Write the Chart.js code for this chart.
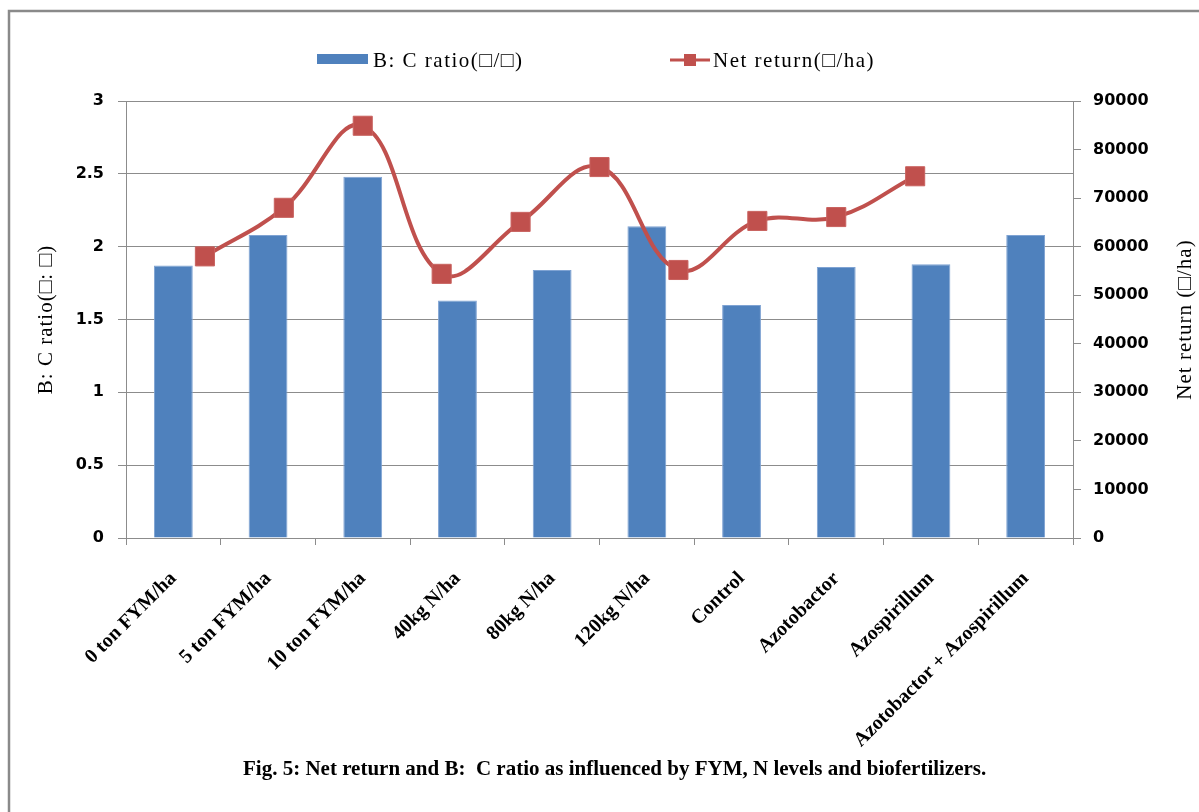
<!DOCTYPE html>
<html>
<head>
<meta charset="utf-8">
<script src="https://cdn.jsdelivr.net/npm/chart.js@4.4.1/dist/chart.umd.min.js"></script>
<style>
  body { margin: 0; background: #fff; }
  #wrap { width: 1199px; height: 812px; }
</style>
</head>
<body>
<div id="wrap"><canvas id="chart" width="1199" height="812"></canvas></div>
<script>
const categories = ['0 ton FYM/ha', '5 ton FYM/ha', '10 ton FYM/ha', '40kg N/ha', '80kg N/ha',
  '120kg N/ha', 'Control', 'Azotobactor', 'Azospirillum', 'Azotobactor + Azospirillum'];
const bcRatio = [1.87, 2.08, 2.48, 1.63, 1.84, 2.14, 1.60, 1.86, 1.88, 2.08];
// the line sits on its own category axis in the original (12 slots, points on 1..10)
const netSlots = [1, 2, 3, 4, 5, 6, 7, 8, 9, 10];
const netReturn = [58000, 68000, 84900, 54400, 65100, 76400, 55200, 65300, 66100, 74500];
const leftTicks = [0, 0.5, 1, 1.5, 2, 2.5, 3];
const rightTicks = [0, 10000, 20000, 30000, 40000, 50000, 60000, 70000, 80000, 90000];

const BLUE = '#4F81BD';
const RED = '#C0504D';
const GRID = '#8c8c8c';
const serif = '"Liberation Serif", "Times New Roman", serif';
const sans = '"DejaVu Sans", sans-serif';

const extras = {
  id: 'extras',
  afterDraw(chart) {
    const ctx = chart.ctx;
    const area = chart.chartArea;
    ctx.save();
    // frame
    ctx.strokeStyle = '#8a8a8a';
    ctx.lineWidth = 2.5;
    ctx.beginPath();
    ctx.moveTo(9, 812);
    ctx.lineTo(9, 11);
    ctx.lineTo(1199, 11);
    ctx.stroke();

    // legend
    ctx.fillStyle = BLUE;
    ctx.fillRect(317, 54, 51, 10);
    ctx.fillStyle = '#000';
    ctx.font = '21px ' + serif;
    ctx.letterSpacing = '1.5px';
    ctx.textBaseline = 'middle';
    ctx.textAlign = 'left';
    ctx.fillText('B: C ratio(□/□)', 373, 61);
    ctx.strokeStyle = RED;
    ctx.lineWidth = 3;
    ctx.beginPath();
    ctx.moveTo(670, 60);
    ctx.lineTo(710, 60);
    ctx.stroke();
    ctx.fillStyle = RED;
    ctx.fillRect(684, 54, 12, 12);
    ctx.fillStyle = '#000';
    ctx.fillText('Net return(□/ha)', 713, 61);

    // axis titles, both read bottom to top
    const midY = (area.top + area.bottom) / 2;
    ctx.font = '21px ' + serif;
    ctx.letterSpacing = '1px';
    ctx.textAlign = 'center';
    ctx.save();
    ctx.translate(46, midY);
    ctx.rotate(-Math.PI / 2);
    ctx.fillText('B: C ratio(□: □)', 0, 0);
    ctx.restore();
    ctx.save();
    ctx.translate(1185, midY);
    ctx.rotate(-Math.PI / 2);
    ctx.fillText('Net return (□/ha)', 0, 0);
    ctx.restore();

    // caption
    ctx.font = 'bold 21px ' + serif;
    ctx.letterSpacing = '0px';
    ctx.textAlign = 'left';
    ctx.fillText('Fig. 5: Net return and B:  C ratio as influenced by FYM, N levels and biofertilizers.', 243, 770);
    ctx.restore();
  }
};

new Chart(document.getElementById('chart'), {
  data: {
    labels: categories,
    datasets: [
      {
        type: 'line',
        label: 'Net return(□/ha)',
        data: netSlots.map((s, i) => ({ x: s, y: netReturn[i] })),
        xAxisID: 'x2',
        yAxisID: 'y1',
        borderColor: RED,
        borderWidth: 4,
        backgroundColor: RED,
        pointStyle: 'rect',
        pointRadius: 13.5,
        pointHoverRadius: 13.5,
        pointBorderColor: '#c96360',
        pointBorderWidth: 1,
        tension: 0.4,
        order: 0
      },
      {
        type: 'bar',
        label: 'B: C ratio(□/□)',
        data: bcRatio,
        xAxisID: 'x',
        yAxisID: 'y',
        backgroundColor: BLUE,
        borderColor: '#7fa3d3',
        borderWidth: 1,
        grouped: false,
        categoryPercentage: 1,
        barPercentage: 0.41,
        order: 1
      }
    ]
  },
  options: {
    responsive: false,
    animation: false,
    layout: { padding: { top: 101, left: 0, right: 0, bottom: 0 } },
    plugins: { legend: { display: false }, tooltip: { enabled: false } },
    scales: {
      x: {
        position: 'bottom',
        offset: true,
        grid: { offset: true, drawOnChartArea: false, drawTicks: true, tickLength: 7, color: GRID },
        border: { color: GRID, width: 1 },
        ticks: {
          color: '#000',
          font: { family: serif, size: 20, weight: 'bold' },
          minRotation: 45,
          maxRotation: 45,
          autoSkip: false,
          padding: 22
        },
        afterFit(s) { s.height = 812 - 538; }
      },
      x2: {
        type: 'linear',
        display: false,
        min: 0,
        max: 12
      },
      y: {
        position: 'left',
        min: 0,
        max: 3,
        afterBuildTicks(s) { s.ticks = leftTicks.map(v => ({ value: v })); },
        grid: { color: GRID, tickLength: 8, lineWidth: 1 },
        border: { color: GRID },
        ticks: {
          color: '#000',
          font: { family: sans, size: 16, weight: 'bold' },
          padding: 14,
          callback: v => String(v)
        },
        afterFit(s) { s.width = 126; }
      },
      y1: {
        position: 'right',
        min: 0,
        max: 90000,
        afterBuildTicks(s) { s.ticks = rightTicks.map(v => ({ value: v })); },
        grid: { drawOnChartArea: false, color: GRID, tickLength: 8 },
        border: { color: GRID },
        ticks: {
          color: '#000',
          font: { family: sans, size: 16, weight: 'bold' },
          padding: 12,
          callback: v => String(v)
        },
        afterFit(s) { s.width = 1199 - 1073; }
      }
    }
  },
  plugins: [extras]
});
</script>
</body>
</html>
